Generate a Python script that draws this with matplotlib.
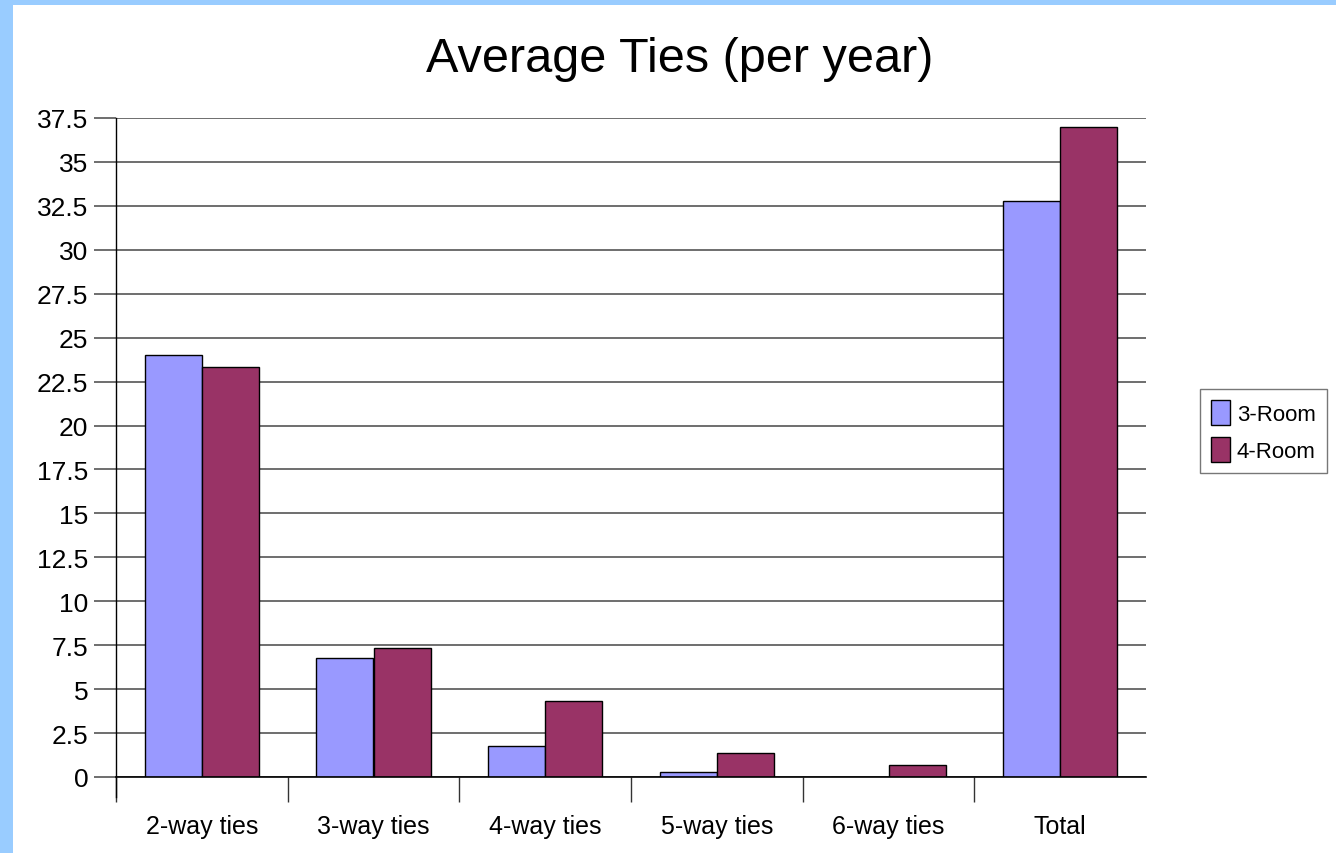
import numpy as np
import matplotlib.pyplot as plt
from matplotlib.patches import Rectangle

plt.rcParams['font.family'] = ['Liberation Sans', 'DejaVu Sans']

categories = ["2-way ties", "3-way ties", "4-way ties", "5-way ties", "6-way ties", "Total"]
room3 = [24.0, 6.77, 1.76, 0.28, 0.02, 32.78]
room4 = [23.33, 7.34, 4.33, 1.37, 0.68, 37.0]
yticks = np.arange(0, 37.6, 2.5)

W, H = 1336, 854
fig = plt.figure(figsize=(W / 100, H / 100), dpi=100, facecolor='#99CCFF')
# white page inside the blue frame
fig.patches.append(Rectangle((13 / W, 0), 1, 1 - 6 / H, transform=fig.transFigure,
                             facecolor='white', edgecolor='none', zorder=-5))

ax = fig.add_axes([116 / W, 1 - 778 / H, (1146 - 116) / W, (778 - 119) / H])
ax.set_facecolor('none')

xpos = np.arange(len(categories)) + 0.5
bw = 1 / 3
ax.bar(xpos - bw / 2, room3, width=bw, color='#9999FF', edgecolor='black',
       linewidth=1, label='3-Room', zorder=3)
ax.bar(xpos + bw / 2, room4, width=bw, color='#993366', edgecolor='black',
       linewidth=1, label='4-Room', zorder=3)

ax.set_xlim(0, len(categories))
ax.set_ylim(0, 37.5)
ax.set_yticks(yticks)
ax.set_yticklabels(['%g' % v for v in yticks], fontsize=19)
ax.yaxis.grid(True, color='#555555', linewidth=1.2)
ax.set_axisbelow(True)

# category dividers as major ticks, labels on minor ticks
ax.set_xticks(np.arange(len(categories)))
ax.set_xticklabels([])
ax.set_xticks(xpos, minor=True)
ax.set_xticklabels(categories, minor=True, fontsize=18)
ax.tick_params(axis='x', which='major', length=18, width=1, color='#333333')
ax.tick_params(axis='x', which='minor', length=0, pad=27)
ax.tick_params(axis='y', length=16, width=1.2, color='#555555', pad=4)

for s in ['top', 'right']:
    ax.spines[s].set_visible(False)
ax.spines['left'].set_bounds(-1.15, 37.5)
ax.spines['left'].set_clip_on(False)
ax.spines['left'].set_linewidth(1)
ax.spines['bottom'].set_linewidth(1.2)
ax.spines['bottom'].set_zorder(4)

fig.text(680 / W, 1 - 72 / H, 'Average Ties (per year)', fontsize=35,
         ha='center', va='baseline')

leg = ax.legend(loc='center left', bbox_to_anchor=(1200 / W, 1 - 432 / H),
                bbox_transform=fig.transFigure, fontsize=16, frameon=True,
                fancybox=False, edgecolor='#555555', borderpad=0.5,
                handlelength=0.85, handleheight=1.35, handletextpad=0.3,
                labelspacing=0.55, borderaxespad=0)
leg.get_frame().set_linewidth(1)

fig.savefig('out.png', dpi=100, facecolor=fig.get_facecolor())
